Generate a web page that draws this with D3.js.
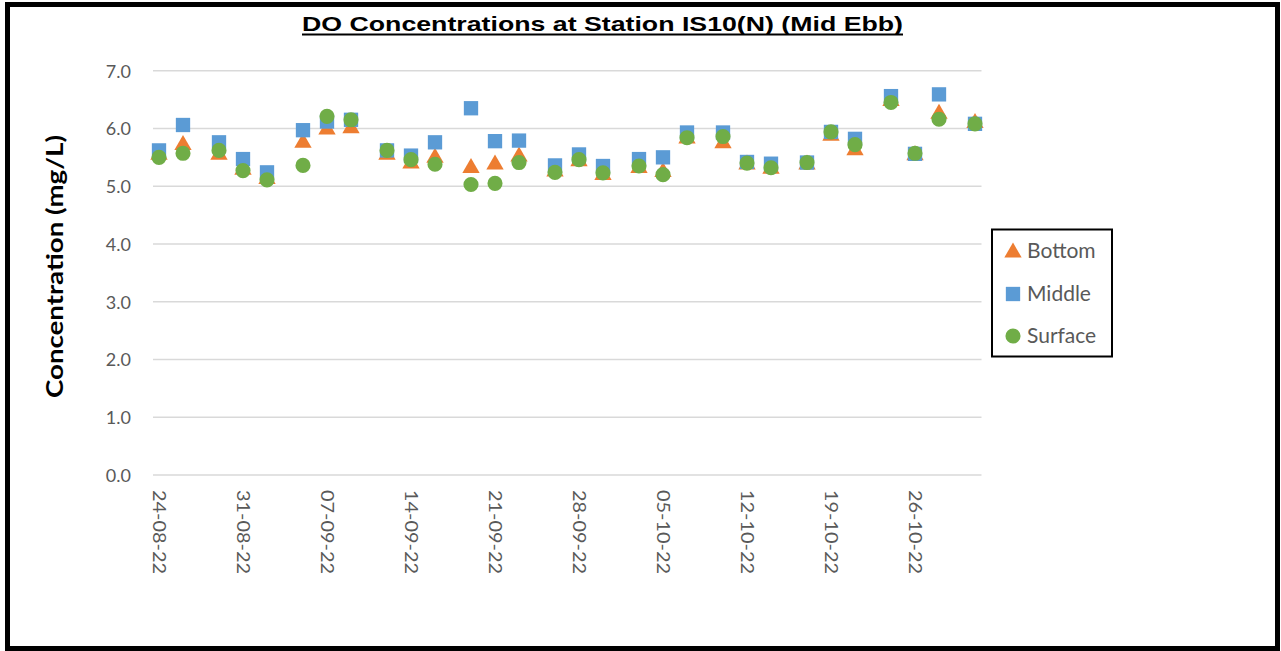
<!DOCTYPE html>
<html>
<head>
<meta charset="utf-8">
<script src="https://cdn.jsdelivr.net/npm/d3@7"></script>
<style>
  html, body { margin: 0; padding: 0; background: #fff; }
  svg { display: block; }
</style>
</head>
<body>
<svg id="chart" width="1281" height="651"></svg>
<script>
const dates = ["2022-08-24","2022-08-26","2022-08-29","2022-08-31","2022-09-02","2022-09-05","2022-09-07","2022-09-09","2022-09-12","2022-09-14","2022-09-16","2022-09-19","2022-09-21","2022-09-23","2022-09-26","2022-09-28","2022-09-30","2022-10-03","2022-10-05","2022-10-07","2022-10-10","2022-10-12","2022-10-14","2022-10-17","2022-10-19","2022-10-21","2022-10-24","2022-10-26","2022-10-28","2022-10-31"];
const bottom  = [5.57,5.74,5.57,5.31,5.15,5.78,6.01,6.03,5.57,5.42,5.52,5.34,5.40,5.54,5.28,5.46,5.22,5.34,5.27,5.85,5.77,5.40,5.33,5.40,5.90,5.65,6.50,5.56,6.28,6.12];
const middle  = [5.62,6.06,5.76,5.47,5.24,5.97,6.12,6.15,5.62,5.53,5.76,6.35,5.78,5.79,5.36,5.55,5.35,5.47,5.50,5.93,5.93,5.42,5.39,5.41,5.94,5.82,6.56,5.56,6.59,6.08];
const surface = [5.50,5.57,5.62,5.27,5.11,5.36,6.21,6.15,5.62,5.46,5.38,5.03,5.05,5.41,5.24,5.46,5.23,5.35,5.20,5.84,5.86,5.40,5.32,5.41,5.94,5.72,6.45,5.57,6.16,6.08];
const xTickLabels = ["24-08-22","31-08-22","07-09-22","14-09-22","21-09-22","28-09-22","05-10-22","12-10-22","19-10-22","26-10-22"];
const yTicks = [0,1,2,3,4,5,6,7];
const seriesNames = ["Bottom","Middle","Surface"];
const seriesColors = ["#ED7D31","#5B9BD5","#70AD47"];

const parseD = d3.timeParse("%Y-%m-%d");
const parseTick = d3.timeParse("%d-%m-%y");
const svg = d3.select("#chart");
const FONT = "Lato, 'Open Sans', sans-serif";

// outer border
svg.append("rect").attr("x",7.5).attr("y",4.5).attr("width",1270).attr("height",644)
  .attr("fill","#fff").attr("stroke","#000").attr("stroke-width",5);

const xDates = dates.map(parseD);
const x0 = d3.timeHour.offset(xDates[0], -12);
const x1 = d3.timeHour.offset(xDates[xDates.length-1], 12);
const x = d3.scaleTime().domain([x0, x1]).range([153, 981]);
const y = d3.scaleLinear().domain([0, 7]).range([475, 70.7]);

// gridlines
svg.append("g").selectAll("line").data(yTicks).join("line")
  .attr("x1",153).attr("x2",981.5)
  .attr("y1",d=>y(d)).attr("y2",d=>y(d))
  .attr("stroke","#D9D9D9").attr("stroke-width",1.5);

// y axis labels
const yAxis = d3.axisLeft(y).tickValues(yTicks).tickFormat(d3.format(".1f")).tickSize(0).tickPadding(0);
const gy = svg.append("g").attr("transform","translate(131,0)").call(yAxis);
gy.select(".domain").remove();
gy.selectAll("text").attr("font-family",FONT).attr("font-size",18).attr("fill","#595959").attr("dy","0.35em");

// x axis labels
const xTickDates = xTickLabels.map(parseTick);
const xAxis = d3.axisBottom(x).tickValues(xTickDates).tickFormat(d3.timeFormat("%d-%m-%y")).tickSize(0);
const gx = svg.append("g").attr("transform","translate(0,475)").call(xAxis);
gx.select(".domain").remove();
gx.selectAll("text")
  .attr("font-family",FONT).attr("font-size",18).attr("fill","#595959")
  .attr("text-anchor","start")
  .attr("transform","rotate(90)")
  .attr("x",15).attr("y",0).attr("dy","0.35em")
  .attr("textLength",84).attr("lengthAdjust","spacingAndGlyphs");

// symbols
const symTypes = [d3.symbolTriangle, d3.symbolSquare, d3.symbolCircle];
const symSizes = [130, 205, 180];
function symbolPath(i){ return d3.symbol().type(symTypes[i]).size(symSizes[i])(); }

const allSeries = [bottom, middle, surface];
allSeries.forEach((vals, i) => {
  svg.append("g").selectAll("path").data(vals).join("path")
    .attr("d", symbolPath(i))
    .attr("transform",(d,j)=>`translate(${x(xDates[j])},${y(d) + (i===0?1.5:0)})`)
    .attr("fill", seriesColors[i]);
});

// title
svg.append("text").attr("x",602.5).attr("y",31).attr("text-anchor","middle")
  .attr("font-family","'Liberation Sans', Arial, sans-serif").attr("font-weight","bold").attr("font-size",21)
  .attr("textLength",601).attr("lengthAdjust","spacingAndGlyphs")
  .attr("fill","#000").text("DO Concentrations at Station IS10(N) (Mid Ebb)");
svg.append("line").attr("x1",302).attr("x2",903).attr("y1",34.5).attr("y2",34.5)
  .attr("stroke","#000").attr("stroke-width",2);

// y title
svg.append("text").attr("transform","translate(63,266.5) rotate(-90)")
  .attr("text-anchor","middle").attr("font-family",FONT).attr("font-weight","bold").attr("font-size",23)
  .attr("textLength",263).attr("lengthAdjust","spacingAndGlyphs")
  .attr("fill","#000").text("Concentration (mg/L)");

// legend
const lg = svg.append("g");
lg.append("rect").attr("x",992).attr("y",229.5).attr("width",120).attr("height",127)
  .attr("fill","#fff").attr("stroke","#000").attr("stroke-width",2);
const legY = [251, 294, 336];
seriesNames.forEach((n,i)=>{
  lg.append("path").attr("d", symbolPath(i))
    .attr("transform",`translate(1013,${legY[i] + (i===0?1.5:0)})`).attr("fill",seriesColors[i]);
  lg.append("text").attr("x",1027).attr("y",legY[i]).attr("dy","0.35em")
    .attr("font-family",FONT).attr("font-size",21).attr("fill","#595959").text(n);
});
</script>
</body>
</html>
